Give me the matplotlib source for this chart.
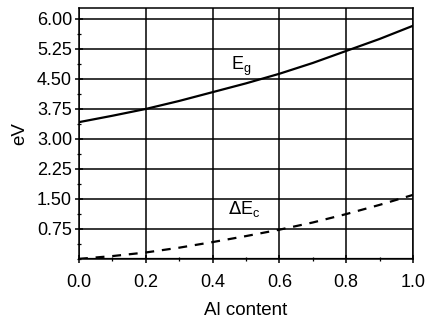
import numpy as np
from matplotlib import pyplot as plt
from matplotlib.ticker import MultipleLocator

plt.rcParams['font.family'] = ['Liberation Sans', 'DejaVu Sans']

al = [0.0, 0.1, 0.2, 0.3, 0.4, 0.5, 0.6, 0.7, 0.8, 0.9, 1.0]
eg = [3.42, 3.58, 3.75, 3.95, 4.17, 4.39, 4.63, 4.90, 5.20, 5.50, 5.83]
dec = [0.0, 0.07, 0.16, 0.28, 0.42, 0.57, 0.73, 0.91, 1.12, 1.35, 1.60]

xticks = [0.0, 0.2, 0.4, 0.6, 0.8, 1.0]
xlabels = ["0.0", "0.2", "0.4", "0.6", "0.8", "1.0"]
yticks = [0.75, 1.5, 2.25, 3.0, 3.75, 4.5, 5.25, 6.0]
ylabels = ["0.75", "1.50", "2.25", "3.00", "3.75", "4.50", "5.25", "6.00"]

fig = plt.figure(figsize=(4.27, 3.2), dpi=100)
ax = fig.add_axes([0.185, 0.191, 0.782, 0.784])

ax.plot(al, eg, color="k", lw=1.6)
ax.plot(al, dec, color="k", lw=1.6, dashes=(4, 3.5))

ax.text(0.455, 4.72, "E$_\\mathregular{g}$", fontsize=13)
ax.text(0.445, 1.12, "$\\Delta$E$_\\mathregular{c}$", fontsize=13)

ax.set_xlim(0, 1)
ax.set_ylim(0, 6.275)
ax.set_xticks(xticks)
ax.set_xticklabels(xlabels)
ax.set_yticks(yticks)
ax.set_yticklabels(ylabels)
ax.xaxis.set_minor_locator(MultipleLocator(0.1))
ax.yaxis.set_minor_locator(MultipleLocator(0.375))
ax.grid(True, which="major", color="k", lw=1.1)
ax.axhline(0, color="k", lw=1.6)

ax.tick_params(which="major", direction="inout", length=6, width=1.1,
               labelsize=13, pad=2, colors="k")
ax.tick_params(which="minor", direction="inout", length=3, width=0.9)
ax.tick_params(axis="x", pad=8)
for s in ax.spines.values():
    s.set_linewidth(1.1)

ax.set_xlabel("Al content", fontsize=13.5, labelpad=8)
ax.set_ylabel("eV", fontsize=13.5, labelpad=6)

fig.savefig("out.png", dpi=100)
